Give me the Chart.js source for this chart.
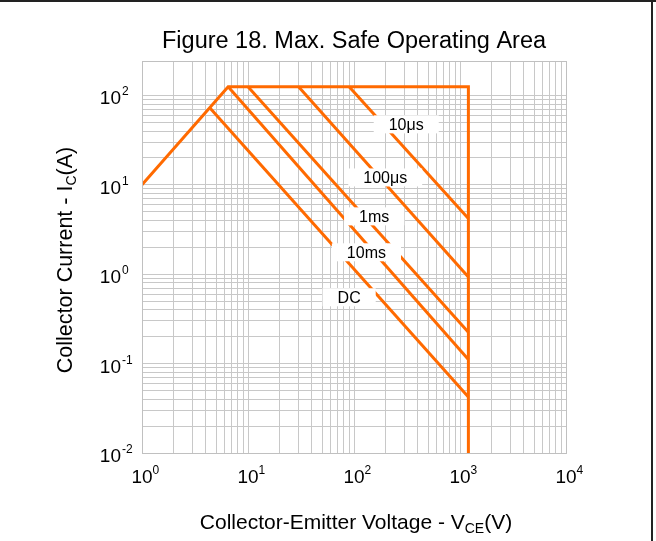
<!DOCTYPE html>
<html>
<head>
<meta charset="utf-8">
<script src="https://cdn.jsdelivr.net/npm/chart.js@4/dist/chart.umd.min.js"></script>
<style>
  html, body { margin: 0; padding: 0; background: #fff; }
  #wrap { position: relative; width: 656px; height: 541px; }
</style>
</head>
<body>
<div id="wrap"><canvas id="soa"></canvas></div>
<script>
// axis ticks (decades) and their exponents
const xTicks = [1, 10, 100, 1000, 10000];
const xTickExp = ['0', '1', '2', '3', '4'];
const yTicks = [0.01, 0.1, 1, 10, 100];
const yTickExp = ['-2', '-1', '0', '1', '2'];

// SOA boundary (current limit + max power + voltage limit)
const boundaryV = [1, 6.5, 1200, 1200];
const boundaryI = [10, 125, 125, 0.01];

// pulse lines
const v10us = [90, 1200];
const i10us = [125, 4.2];
const v100us = [30, 1200];
const i100us = [125, 0.93];
const v1ms = [10, 1200];
const i1ms = [125, 0.225];
const v10ms = [6.5, 1200];
const i10ms = [125, 0.111];
const vDC = [4.4, 1200];
const iDC = [72, 0.0423];

// curve names and where their tags sit (V, A)
const curveNames = ['10μs', '100μs', '1ms', '10ms', 'DC'];
const tagV = [311, 197, 155, 131, 90];
const tagI = [47.5, 12.1, 4.44, 1.76, 0.552];

const FONT = '"Liberation Sans", Arial, sans-serif';
const ORANGE = '#ff6a00';

function pts(xs, ys) {
  return xs.map((x, i) => ({ x: x, y: ys[i] }));
}

function decadeGrid(from, to, top) {
  const out = [];
  for (let e = from; e < to; e++) {
    for (let k = 1; k <= 9; k++) out.push(k * Math.pow(10, e));
  }
  out.push(Math.pow(10, to));
  return out.filter(v => v <= top);
}

function line(xs, ys) {
  return {
    data: pts(xs, ys),
    showLine: true,
    borderColor: ORANGE,
    backgroundColor: ORANGE,
    borderWidth: 3,
    pointRadius: 0,
    fill: false,
    tension: 0
  };
}

function put(ctx, s, x, y, size, align) {
  ctx.font = size + 'px ' + FONT;
  ctx.textAlign = align || 'left';
  ctx.textBaseline = 'alphabetic';
  ctx.fillText(s, x, y);
  return ctx.measureText(s).width;
}

function width(ctx, s, size) {
  ctx.font = size + 'px ' + FONT;
  return ctx.measureText(s).width;
}

const textPlugin = {
  id: 'soaText',
  afterDatasetsDraw(chart) {
    const ctx = chart.ctx;
    const area = chart.chartArea;
    const xs = chart.scales.x;
    const ys = chart.scales.y;
    ctx.save();

    // plot border
    ctx.strokeStyle = '#c0c0c0';
    ctx.lineWidth = 1;
    ctx.strokeRect(Math.round(area.left) + 0.5, Math.round(area.top) + 0.5,
      Math.round(area.right - area.left), Math.round(area.bottom - area.top));

    // curve tags with white boxes
    curveNames.forEach((name, i) => {
      const px = xs.getPixelForValue(tagV[i]);
      const py = ys.getPixelForValue(tagI[i]);
      const w = width(ctx, name, 16) + 30;
      ctx.fillStyle = '#fff';
      ctx.fillRect(px - w / 2, py - 9, w, 18);
      ctx.fillStyle = '#000';
      put(ctx, name, px, py + 6, 16, 'center');
    });

    // tick labels 10^n
    xTicks.forEach((v, i) => {
      const px = xs.getPixelForValue(v);
      const w = put(ctx, '10', px, 483, 19, 'center');
      put(ctx, xTickExp[i], px + w / 2, 474, 12, 'left');
    });
    yTicks.forEach((v, i) => {
      const py = ys.getPixelForValue(v);
      put(ctx, '10', 121, py + 9, 19, 'right');
      put(ctx, yTickExp[i], 122, py, 12, 'left');
    });

    // chart title
    put(ctx, 'Figure 18. Max. Safe Operating Area', 354, 48, 23.5, 'center');

    // x axis title with subscript
    const a = 'Collector-Emitter Voltage - V', b = 'CE', c = '(V)';
    const total = width(ctx, a, 21) + width(ctx, b, 14) + width(ctx, c, 21);
    let x = 356 - total / 2;
    x += put(ctx, a, x, 529, 21);
    x += put(ctx, b, x, 533, 14);
    put(ctx, c, x, 529, 21);

    // y axis title, rotated
    ctx.translate(72, 260);
    ctx.rotate(-Math.PI / 2);
    const ya = 'Collector Current - I', yb = 'C', yc = '(A)';
    const ytot = width(ctx, ya, 21.5) + width(ctx, yb, 14) + width(ctx, yc, 21.5);
    let t = -ytot / 2;
    t += put(ctx, ya, t, 0, 21.5);
    t += put(ctx, yb, t, 4, 14);
    put(ctx, yc, t, 0, 21.5);
    ctx.restore();

    // outer frame (top and right edges)
    ctx.save();
    ctx.fillStyle = '#222';
    ctx.fillRect(0, 0, 656, 2);
    ctx.fillRect(651, 0, 2, 541);
    ctx.restore();
  }
};

const gridColor = '#c8c8c8';

new Chart(document.getElementById('soa'), {
  type: 'scatter',
  data: {
    datasets: [
      line(boundaryV, boundaryI),
      line(v10us, i10us),
      line(v100us, i100us),
      line(v1ms, i1ms),
      line(v10ms, i10ms),
      line(vDC, iDC)
    ]
  },
  options: {
    responsive: true,
    maintainAspectRatio: false,
    animation: false,
    layout: { padding: { left: 142, top: 61, right: 90, bottom: 88 } },
    plugins: {
      legend: { display: false },
      tooltip: { enabled: false },
      title: { display: false }
    },
    scales: {
      x: {
        type: 'logarithmic',
        min: 1,
        max: 10000,
        afterBuildTicks: s => { s.ticks = decadeGrid(0, 4, 10000).map(v => ({ value: v })); },
        ticks: { display: false },
        grid: { color: gridColor, lineWidth: 1, drawTicks: false },
        border: { color: '#c0c0c0' }
      },
      y: {
        type: 'logarithmic',
        min: 0.01,
        max: 243,
        afterBuildTicks: s => { s.ticks = decadeGrid(-2, 2, 100).map(v => ({ value: v })); },
        ticks: { display: false },
        grid: { color: gridColor, lineWidth: 1, drawTicks: false },
        border: { color: '#c0c0c0' }
      }
    }
  },
  plugins: [textPlugin]
});
</script>
</body>
</html>
